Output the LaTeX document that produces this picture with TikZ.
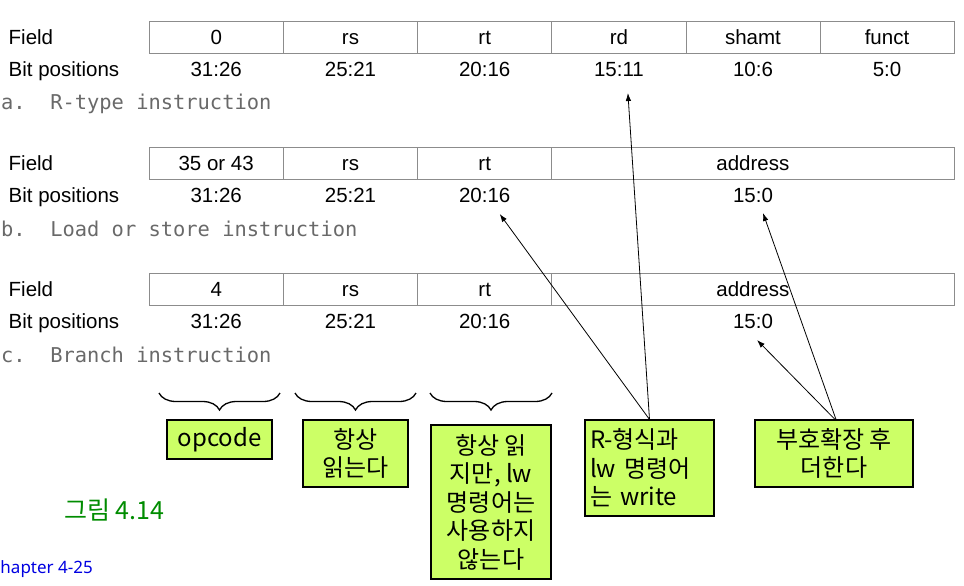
\documentclass[tikz,border=0pt]{standalone}
\usepackage{fontspec}
\setmainfont{Liberation Sans}
\newfontfamily\monof{DejaVu Sans Mono}
\newfontfamily\kor{Noto Sans CJK KR}
\newfontfamily\notos{Noto Sans}
\usetikzlibrary{decorations.pathreplacing,calc,arrows.meta}
\definecolor{notefill}{RGB}{204,255,102}
\definecolor{tblline}{RGB}{140,140,140}
\definecolor{instrgray}{RGB}{105,105,105}
\definecolor{figgreen}{RGB}{0,140,0}
\definecolor{chapblue}{RGB}{0,0,225}
\begin{document}
\begin{tikzpicture}[x=1pt,y=-1pt,
  tcell/.style={draw=tblline, line width=0.9pt, inner sep=0pt, minimum height=31.5pt,
    text height=15pt, text depth=1pt, font=\fontsize{20.5}{24}\selectfont},
  rowlbl/.style={anchor=base west, inner sep=0pt, font=\fontsize{20.5}{24}\selectfont},
  bits/.style={anchor=base, inner sep=0pt, font=\fontsize{20.5}{24}\selectfont},
  instr/.style={anchor=base west, inner sep=0pt, text=instrgray, font=\monof\fontsize{20.4}{24}\selectfont},
  note/.style={draw=black, line width=1.1pt, fill=notefill, inner sep=0pt, align=center,
    font=\kor\fontsize{24}{28.5}\selectfont},
  arr/.style={-{Latex[length=8pt,width=5.5pt]}, line width=0.8pt},
  brc/.style={decorate, decoration={brace, mirror, amplitude=17pt}, line width=1.3pt}]
\useasboundingbox (0,0) rectangle (964,586);
\clip (0,0) rectangle (964,586);

% ---- row a: R-type ----
\node[rowlbl] (afield) at (8.5,44.5) {Field};
\node[rowlbl] (abitsl) at (8.5,76.7) {Bit positions};
\node[tcell, minimum width=134.3pt] (a1) at (216.2,37.5) {0};
\node[tcell, minimum width=134.4pt] (a2) at (350.5,37.5) {rs};
\node[tcell, minimum width=134pt]   (a3) at (484.7,37.5) {rt};
\node[tcell, minimum width=134.3pt] (a4) at (618.9,37.5) {rd};
\node[tcell, minimum width=134pt]   (a5) at (753,37.5) {shamt};
\node[tcell, minimum width=134pt]   (a6) at (887,37.5) {funct};
\node[bits] (a1b) at (216.2,76.7) {31:26};
\node[bits] (a2b) at (350.5,76.7) {25:21};
\node[bits] (a3b) at (484.7,76.7) {20:16};
\node[bits] (a4b) at (618.9,76.7) {15:11};
\node[bits] (a5b) at (753,76.7) {10:6};
\node[bits] (a6b) at (887,76.7) {5:0};
\node[instr] (alabel) at (1,110) {a.\ \ R-type instruction};

% ---- row b: load/store ----
\node[rowlbl] (bfield) at (8.5,170.5) {Field};
\node[rowlbl] (bbitsl) at (8.5,202.5) {Bit positions};
\node[tcell, minimum width=134.3pt] (b1) at (216.2,163.5) {35 or 43};
\node[tcell, minimum width=134.4pt] (b2) at (350.5,163.5) {rs};
\node[tcell, minimum width=134pt]   (b3) at (484.7,163.5) {rt};
\node[tcell, minimum width=402.3pt] (b4) at (752.85,163.5) {address};
\node[bits] (b1b) at (216.2,202.5) {31:26};
\node[bits] (b2b) at (350.5,202.5) {25:21};
\node[bits] (b3b) at (484.7,202.5) {20:16};
\node[bits] (b4b) at (753,202.5) {15:0};
\node[instr] (blabel) at (1,236) {b.\ \ Load or store instruction};

% ---- row c: branch ----
\node[rowlbl] (cfield) at (8.5,296.5) {Field};
\node[rowlbl] (cbitsl) at (8.5,328.5) {Bit positions};
\node[tcell, minimum width=134.3pt] (c1) at (216.2,289.5) {4};
\node[tcell, minimum width=134.4pt] (c2) at (350.5,289.5) {rs};
\node[tcell, minimum width=134pt]   (c3) at (484.7,289.5) {rt};
\node[tcell, minimum width=402.3pt] (c4) at (752.85,289.5) {address};
\node[bits] (c1b) at (216.2,328.5) {31:26};
\node[bits] (c2b) at (350.5,328.5) {25:21};
\node[bits] (c3b) at (484.7,328.5) {20:16};
\node[bits] (c4b) at (753,328.5) {15:0};
\node[instr] (clabel) at (1,362) {c.\ \ Branch instruction};

% ---- braces ----
\coordinate (br1l) at (159,393); \coordinate (br1r) at (280,393);
\coordinate (br2l) at (295,393); \coordinate (br2r) at (416,393);
\coordinate (br3l) at (430,393); \coordinate (br3r) at (552,393);
\draw[brc] (br1l) -- (br1r);
\draw[brc] (br2l) -- (br2r);
\draw[brc] (br3l) -- (br3r);

% ---- notes ----
\node[note, minimum width=105pt, minimum height=39pt] (opc) at (219.5,439.5) {opcode};
\node[note, minimum width=105pt, minimum height=67pt] (rsn) at (355.5,453.5) {항상\\읽는다};
\node[note, minimum width=120pt, minimum height=154pt] (rtn) at (491,502) {항상 읽\\지만, lw\\명령어는\\사용하지\\않는다};
\node[note, minimum width=129pt, minimum height=96pt, align=left, text width=119pt] (rdn) at (649.5,468) {R-형식과\\lw 명령어\\는 write};
\node[note, minimum width=158pt, minimum height=67pt] (sxn) at (834,453.5) {부호확장 후\\더한다};

% ---- arrows ----
\coordinate (t1) at ($(a4b.base)+(9,16.3)$);
\coordinate (t2) at ($(b3b.base)+(15,11.5)$);
\coordinate (t3) at ($(b4b.base)+(10,10.5)$);
\coordinate (t4) at ($(c4b.base)+(4,11.5)$);
\draw[arr] (rdn.north) -- (t1);
\draw[arr] (rdn.north) -- (t2);
\draw[arr] ($(sxn.north)+(2,0)$) -- (t3);
\draw[arr] ($(sxn.north)+(1,0)$) -- (t4);

% ---- captions ----
\node[anchor=base west, inner sep=0pt, text=figgreen, font=\kor\fontsize{25}{28}\selectfont] (fig) at (64,519) {그림 4.14};
\node[anchor=base east, inner sep=0pt, text=chapblue, font=\notos\fontsize{17}{20}\selectfont] (chap) at (93,573) {Chapter 4-25};
\end{tikzpicture}
\end{document}
